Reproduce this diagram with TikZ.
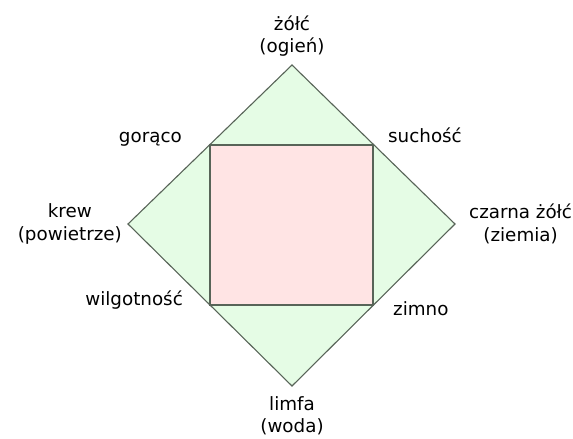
\documentclass[tikz,border=0pt]{standalone}
\usepackage{fontspec}
\setmainfont{DejaVu Sans}
\usepackage{tikz}
\usetikzlibrary{positioning}

\definecolor{elemgreen}{RGB}{229,252,229}
\definecolor{qualpink}{RGB}{255,228,228}
\definecolor{edgegray}{RGB}{88,100,88}

\begin{document}
\begin{tikzpicture}[
  x=1pt,y=-1pt,
  every node/.style={font=\fontsize{18.3}{22.5}\selectfont,align=center,inner sep=0pt},
  elem/.style={draw=edgegray,fill=elemgreen,line width=1.1pt,line join=miter},
  qual/.style={draw=edgegray,fill=qualpink,line width=1.1pt}
]
\useasboundingbox (0,0) rectangle (573,439);

% diamond of the four humours
\coordinate (top) at (292,65);
\coordinate (west) at (128,224);
\coordinate (east) at (455,224);
\coordinate (bottom) at (292,386);
\draw[elem] (top) -- (east) -- (bottom) -- (west) -- cycle;

% square of the four qualities
\coordinate (tl) at (210,145);
\coordinate (tr) at (373,145);
\coordinate (br) at (373,305);
\coordinate (bl) at (210,305);
\draw[qual] (tl) -- (tr) -- (br) -- (bl) -- cycle;

\node[above=8pt of top] (fire) {żółć\\(ogień)};
\node[left=6pt of west] (air) {krew\\(powietrze)};
\node[right=14pt of east] (earth) {czarna żółć\\(ziemia)};
\node[below=10pt of bottom] (water) {limfa\\(woda)};

\node[anchor=base east] (hot) at ([shift={(-28,-3)}]tl) {gorąco};
\node[anchor=base west] (dry) at ([shift={(15,-3)}]tr) {suchość};
\node[anchor=base east] (wet) at ([shift={(-27,0)}]bl) {wilgotność};
\node[anchor=base west] (cold) at ([shift={(20,10)}]br) {zimno};
\end{tikzpicture}
\end{document}
